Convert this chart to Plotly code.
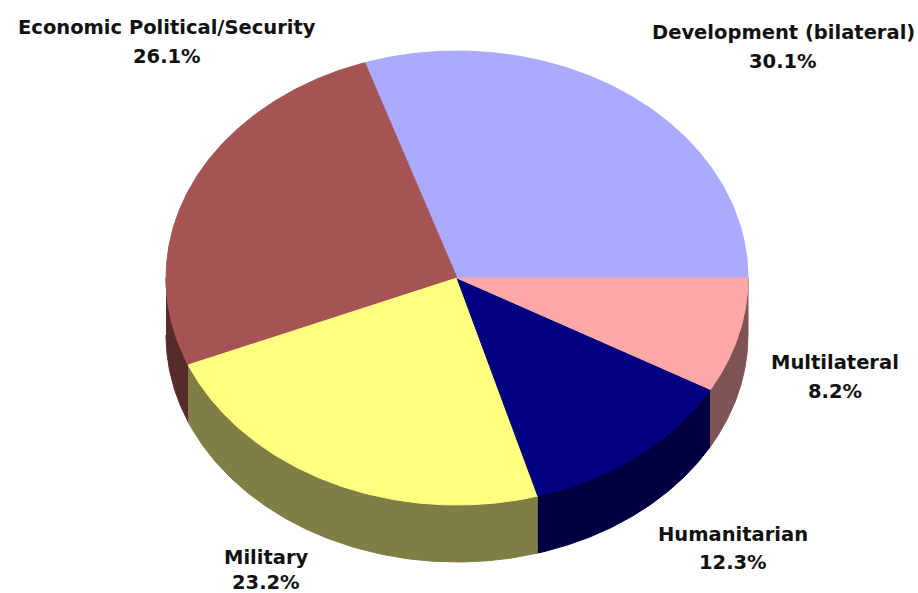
import numpy as np
import plotly.graph_objects as go

# ---- data ----
categories = ["Development (bilateral)", "Economic Political/Security", "Military",
              "Humanitarian", "Multilateral"]
values = [30.1, 26.1, 23.2, 12.3, 8.2]
top_colors = ["#AAAAFF", "#A65353", "#FFFF80", "#000080", "#FFA8A8"]
side_colors = ["#55557F", "#582B2B", "#7F7F45", "#000040", "#805454"]

# ---- layout geometry (pixels) ----
W, H = 918, 593
CX, CY, RX, RY, DEPTH = 457, 278, 291, 227, 57

label_pos = {  # (x, y_name, y_pct)
    "Development (bilateral)": (783, 30, 59),
    "Economic Political/Security": (167, 25, 54),
    "Military": (266, 555, 580),
    "Humanitarian": (733, 532, 560),
    "Multilateral": (835, 360, 389),
}

total = sum(values)
fracs = [v / total for v in values]
starts = np.concatenate([[0], np.cumsum(fracs)[:-1]]) * 360
ends = np.cumsum(fracs) * 360


def ex(a):
    return CX + RX * np.cos(np.radians(a))


def ey(a):
    return CY - RY * np.sin(np.radians(a))


fig = go.Figure()

# side walls (visible front half: 180..360 degrees)
for a1, a2, col in zip(starts, ends, side_colors):
    lo, hi = max(a1, 180), min(a2, 360)
    if hi <= lo:
        continue
    a = np.linspace(lo, hi, 120)
    xs = np.concatenate([ex(a), ex(a[::-1])])
    ys = np.concatenate([ey(a), ey(a[::-1]) + DEPTH])
    fig.add_trace(go.Scatter(x=xs, y=ys, mode="lines", fill="toself",
                             fillcolor=col, line=dict(color=col, width=1),
                             hoverinfo="skip", showlegend=False))

# top faces
for a1, a2, col, name, v in zip(starts, ends, top_colors, categories, values):
    a = np.linspace(a1, a2, 200)
    xs = np.concatenate([[CX], ex(a), [CX]])
    ys = np.concatenate([[CY], ey(a), [CY]])
    fig.add_trace(go.Scatter(x=xs, y=ys, mode="lines", fill="toself",
                             fillcolor=col, line=dict(color=col, width=1),
                             name=name, text=f"{name}: {v:.1f}%",
                             hoverinfo="text", showlegend=False))

font = dict(family="DejaVu Sans, Arial, sans-serif", size=19.5, color="#111111")
for name, v in zip(categories, values):
    lx, ly1, ly2 = label_pos[name]
    fig.add_annotation(x=lx, y=ly1 + 2, text=f"<b>{name}</b>", showarrow=False,
                       xanchor="center", yanchor="middle", font=font)
    fig.add_annotation(x=lx, y=ly2 + 2, text=f"<b>{v:.1f}%</b>", showarrow=False,
                       xanchor="center", yanchor="middle", font=font)

fig.update_layout(
    width=W, height=H,
    margin=dict(l=0, r=0, t=0, b=0),
    paper_bgcolor="white", plot_bgcolor="white",
    xaxis=dict(range=[0, W], visible=False, fixedrange=True),
    yaxis=dict(range=[H, 0], visible=False, fixedrange=True),
    showlegend=False,
)

fig.write_html("out.html", config={"displayModeBar": False},
               post_script="document.body.style.margin='0';document.body.style.overflow='hidden';")
